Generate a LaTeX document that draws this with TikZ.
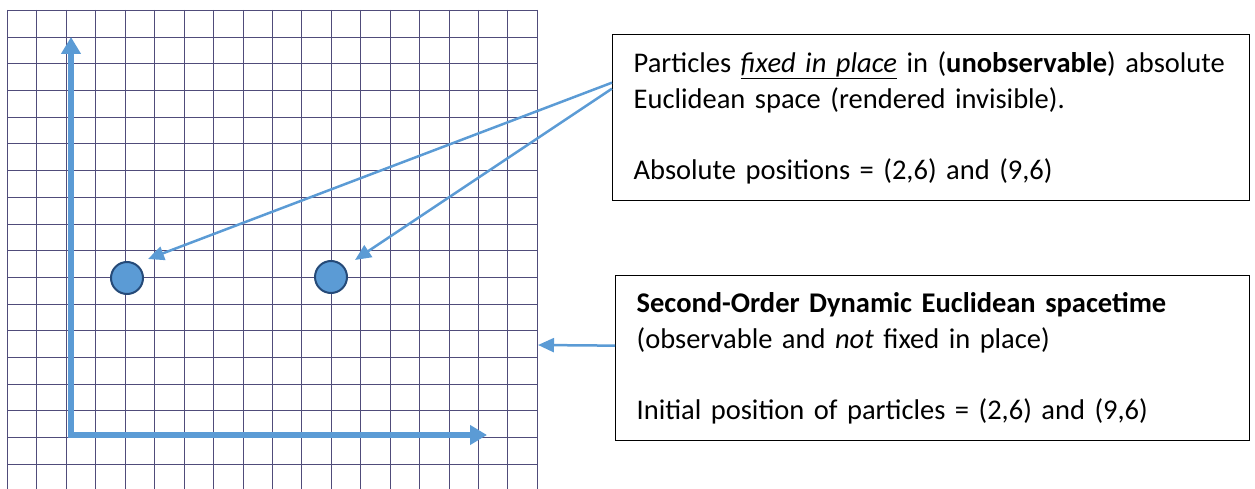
\documentclass[tikz,border=0pt]{standalone}
\usepackage{fontspec}
\setmainfont{Carlito}
\usepackage{tikz}
\usetikzlibrary{arrows.meta, positioning}
\definecolor{axisblue}{RGB}{91, 155, 213}
\definecolor{dotedge}{RGB}{37, 74, 120}
\definecolor{gridnavy}{RGB}{80, 76, 122}

\tikzset{
    notebox/.style={draw=black, line width=1.3pt, rectangle, anchor=north west,
        inner xsep=21pt, inner ysep=0pt, align=left,
        font=\fontsize{28.5}{35.5}\selectfont},
    particle/.style={circle, fill=axisblue, draw=dotedge, line width=2pt,
        minimum size=32pt, inner sep=0pt},
    pointer/.style={axisblue, line width=2.5pt, -{Triangle[length=16pt, width=14pt]}}
}

\begin{document}
\begin{tikzpicture}[x=1pt, y=-1pt]
    \useasboundingbox (0,0) rectangle (1255,489);

    % Graph paper
    \foreach \i in {0,...,18} {
        \pgfmathsetmacro{\gx}{round(7+29.44*\i)+0.5}
        \draw[gridnavy, line width=1.2pt] (\gx,10) -- (\gx,489);
    }
    \foreach \j in {0,...,17} {
        \pgfmathsetmacro{\gy}{round(10+26.7*\j)+0.5}
        \draw[gridnavy, line width=1.2pt] (7,\gy) -- (538,\gy);
    }

    % Axes
    \draw[axisblue, line width=6pt,
        {Triangle[length=17pt, width=19pt]}-{Triangle[length=17pt, width=19pt]}]
        (71,37) -- (71,435) -- (487,435);

    % Particles
    \node[particle] (dotA) at (127,278) {};
    \node[particle] (dotB) at (331,277) {};

    % Absolute space note
    \node[notebox, minimum width=637pt, minimum height=166pt, text width=595pt]
        (absbox) at (612,34)
        {\mbox{Particles \underline{\textit{fixed in place}} in (\textbf{unobservable}) absolute}\\
         Euclidean space (rendered invisible).\\[35.5pt]
         Absolute positions = (2,6) and (9,6)};

    % Spacetime note
    \node[notebox, minimum width=634pt, minimum height=165pt, text width=592pt]
        (dynbox) at (615,275)
        {\textbf{Second-Order Dynamic Euclidean spacetime}\\
         (observable and \textit{not} fixed in place)\\[35.5pt]
         Initial position of particles = (2,6) and (9,6)};

    % Pointers
    \draw[pointer] ([yshift=35pt]absbox.west) -- ([shift={(9,-7)}]dotA.north east);
    \draw[pointer] ([yshift=29pt]absbox.west) -- ([shift={(12,-5)}]dotB.north east);
    \coordinate (paperedge) at (538,345);
    \draw[pointer] ([yshift=12.5pt]dynbox.west) -- (paperedge);
\end{tikzpicture}
\end{document}
